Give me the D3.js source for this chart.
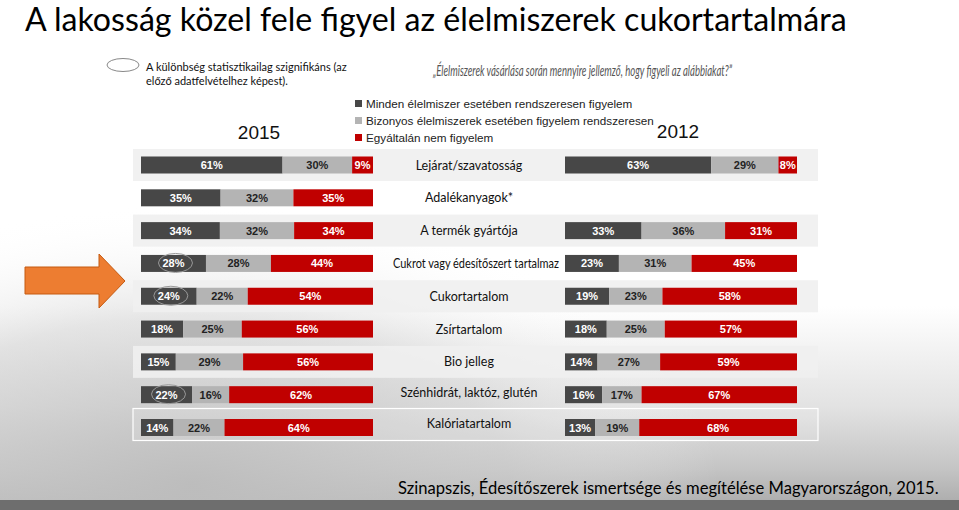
<!DOCTYPE html>
<html><head><meta charset="utf-8">
<script src="https://cdn.jsdelivr.net/npm/d3@7/dist/d3.min.js"></script>
<style>body{margin:0;background:#fff}svg{display:block}</style>
</head><body>
<svg id="c" width="959" height="510"></svg>
<script>
const categories = ["Lejárat/szavatosság","Adalékanyagok*","A termék gyártója","Cukrot vagy édesítőszert tartalmaz","Cukortartalom","Zsírtartalom","Bio jelleg","Szénhidrát, laktóz, glutén","Kalóriatartalom"];
const seriesNames = ["Minden élelmiszer esetében rendszeresen figyelem","Bizonyos élelmiszerek esetében figyelem rendszeresen","Egyáltalán nem figyelem"];
const always2015 = [61,35,34,28,24,18,15,22,14];
const some2015   = [30,32,32,28,22,25,29,16,22];
const never2015  = [9,35,34,44,54,56,56,62,64];
const always2012 = [63,null,33,23,19,18,14,16,13];
const some2012   = [29,null,36,31,23,25,27,17,19];
const never2012  = [8,null,31,45,58,57,59,67,68];
const significant2015 = [false,false,false,true,true,false,false,true,false];
const colors = ["#474747","#b4b4b4","#c00000"];
const labelColors = ["#ffffff","#222222","#ffffff"];

const svg = d3.select("#c");
const defs = svg.append("defs");
const g1 = defs.append("linearGradient").attr("id","bg").attr("x1","0").attr("y1","0").attr("x2","0").attr("y2","1");
[[0,"#ffffff"],[0.6,"#ffffff"],[0.8,"#e2e2e2"],[0.92,"#c4c4c4"],[1,"#a8a8a8"]].forEach(s=>g1.append("stop").attr("offset",s[0]).attr("stop-color",s[1]));
const g2 = defs.append("radialGradient").attr("id","bg2").attr("cx","0.2").attr("cy","0.95").attr("r","0.55");
[[0,"#bdbdbd",0.9],[0.6,"#d0d0d0",0.5],[1,"#ffffff",0]].forEach(s=>g2.append("stop").attr("offset",s[0]).attr("stop-color",s[1]).attr("stop-opacity",s[2]));
svg.append("rect").attr("width",959).attr("height",510).attr("fill","url(#bg)");
svg.append("rect").attr("width",959).attr("height",510).attr("fill","url(#bg2)");
svg.append("rect").attr("x",0).attr("y",500).attr("width",959).attr("height",10).attr("fill","#6e6e6e");

function fitText(sel, target){
  const fs = parseFloat(sel.attr("font-size"));
  const w = sel.node().getComputedTextLength();
  if(w>0) sel.attr("font-size", (fs*target/w).toFixed(2));
  return sel;
}

// title
fitText(svg.append("text").attr("x",25).attr("y",31).attr("font-family","Lato, 'Open Sans', sans-serif").attr("font-size",30)
  .attr("fill","#000").text("A lakosság közel fele figyel az élelmiszerek cukortartalmára"), 822);

// note
svg.append("ellipse").attr("cx",123).attr("cy",65).attr("rx",16).attr("ry",6.5).attr("fill","none").attr("stroke","#888").attr("stroke-width",1);
const note = svg.append("text").attr("font-family","Lato, sans-serif").attr("font-size",11).attr("fill","#111");
note.append("tspan").attr("x",146).attr("y",71).text("A különbség statisztikailag szignifikáns (az");
note.append("tspan").attr("x",146).attr("y",85).text("előző adatfelvételhez képest).");

svg.append("text").attr("x",433).attr("y",76).attr("font-family","Lato, sans-serif").attr("font-style","italic").attr("font-size",15.5)
  .attr("textLength",299).attr("lengthAdjust","spacingAndGlyphs")
  .attr("fill","#555").text("„Élelmiszerek vásárlása során mennyire jellemző, hogy figyeli az alábbiakat?”");

// legend
const lg = svg.append("g");
seriesNames.forEach((n,i)=>{
  const y = 104 + i*17;
  lg.append("rect").attr("x",355).attr("y",y-4).attr("width",7).attr("height",7).attr("fill",colors[i]);
  lg.append("text").attr("x",366).attr("y",y+4).attr("font-family","'Liberation Sans', Arial, sans-serif").attr("font-size",11.7).attr("fill","#222").text(n);
});
svg.append("text").attr("x",259).attr("y",139).attr("text-anchor","middle").attr("font-family","'Liberation Sans', Arial, sans-serif").attr("font-size",19).attr("fill","#111").text("2015");
svg.append("text").attr("x",678).attr("y",138).attr("text-anchor","middle").attr("font-family","'Liberation Sans', Arial, sans-serif").attr("font-size",19).attr("fill","#111").text("2012");

// arrow
svg.append("path").attr("d","M25,267 L99,267 L99,254 L125,281 L99,308 L99,294 L25,294 Z")
  .attr("fill","#ed7d31").attr("stroke","#c55a11").attr("stroke-width",1);

// scales
const y = d3.scalePoint().domain(categories).range([165,427.5]);
const xL = d3.scaleLinear().domain([0,1]).range([141,373]);
const xR = d3.scaleLinear().domain([0,1]).range([565,797]);
const barH = 17;

// row bands
categories.forEach((c,i)=>{
  if(i%2===0 && i<8){
    svg.append("rect").attr("x",133).attr("y",y(c)-16).attr("width",685).attr("height",32).attr("fill","#f0f0f0").attr("opacity",0.9);
  }
});
svg.append("rect").attr("x",133).attr("y",y(categories[8])-19).attr("width",685).attr("height",32)
  .attr("fill","#ffffff").attr("fill-opacity",0.15).attr("stroke","#ffffff").attr("stroke-width",1.2);

function makeRows(a,b,c){
  return categories.map((cat,i)=>({cat, a:a[i], b:b[i], c:c[i]})).filter(d=>d.a!=null);
}
const stack = d3.stack().keys(["a","b","c"]).offset(d3.stackOffsetExpand);

function drawPanel(rows, x){
  const layers = stack(rows);
  const gp = svg.append("g");
  layers.forEach((layer,k)=>{
    layer.forEach(seg=>{
      const cat = seg.data.cat;
      const x0 = x(seg[0]), x1 = x(seg[1]);
      gp.append("rect").attr("x",x0).attr("y",y(cat)-barH/2).attr("width",x1-x0).attr("height",barH).attr("fill",colors[k]);
      gp.append("text").attr("x",(x0+x1)/2).attr("y",y(cat)+4).attr("text-anchor","middle")
        .attr("font-family","'Liberation Sans', Arial, sans-serif").attr("font-weight","bold").attr("font-size",11)
        .attr("fill",labelColors[k]).text(seg.data[layer.key]+"%");
    });
  });
}
drawPanel(makeRows(always2015,some2015,never2015), xL);
drawPanel(makeRows(always2012,some2012,never2012), xR);

// significance ellipses
categories.forEach((c,i)=>{
  if(significant2015[i]){
    const mid = xL(always2015[i]/(always2015[i]+some2015[i]+never2015[i])/2);
    svg.append("ellipse").attr("cx",mid+2).attr("cy",y(c)-0.5).attr("rx",17).attr("ry",9.5).attr("fill","none").attr("stroke","#999").attr("stroke-width",1);
  }
});

// category labels
categories.forEach((c,i)=>{
  let dy = 4.5;
  if(i===8) dy = 0;
  if(i===7) dy = 2;
  const t = svg.append("text").attr("x",469).attr("y",y(c)+dy).attr("text-anchor","middle")
    .attr("font-family","Lato, 'Open Sans', sans-serif").attr("font-size",12.5).attr("fill","#111").text(c);
  if(i===3){ t.attr("x",393).attr("text-anchor","start").attr("textLength",166).attr("lengthAdjust","spacingAndGlyphs"); }
});

// footer
fitText(svg.append("text").attr("x",398).attr("y",494).attr("font-family","Lato, 'Open Sans', sans-serif").attr("font-size",17.5)
  .attr("fill","#000").text("Szinapszis, Édesítőszerek ismertsége és megítélése Magyarországon, 2015."), 541);
</script>
</body></html>
